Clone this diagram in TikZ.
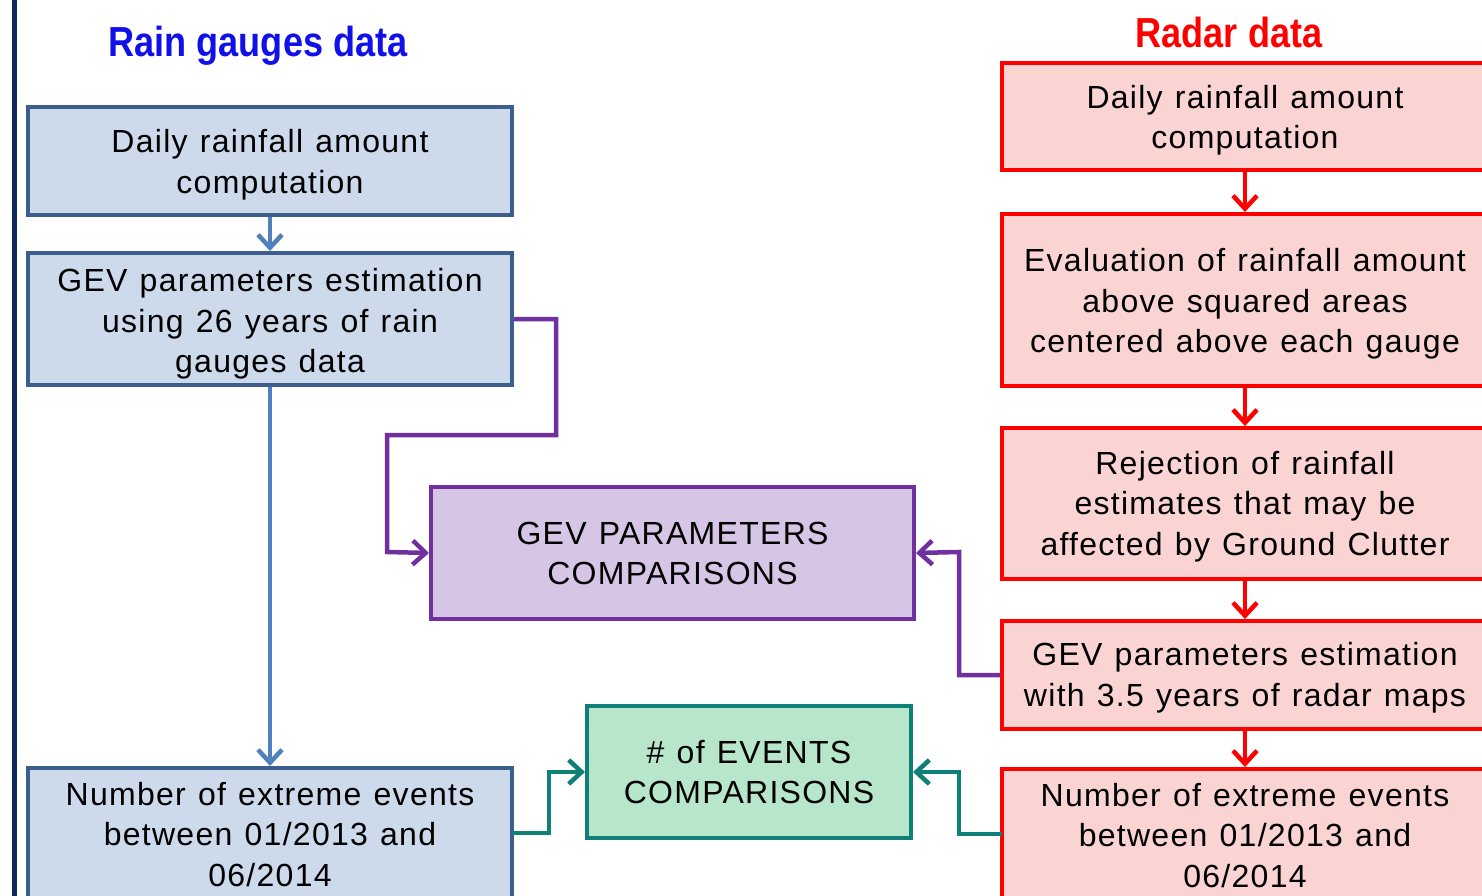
\documentclass[tikz,border=0pt]{standalone}
\usepackage{fontspec}
\setmainfont{Liberation Sans}[LetterSpace=4,WordSpace=1.2]
\newfontfamily\titlefont[FakeStretch=0.86]{Liberation Sans}
\usetikzlibrary{arrows.meta}
\definecolor{bfill}{HTML}{CDDAEB}
\definecolor{bdraw}{HTML}{3B5E8C}
\definecolor{barrow}{HTML}{4F81BD}
\definecolor{pfill}{HTML}{D6C5E4}
\definecolor{pdraw}{HTML}{7030A0}
\definecolor{gfill}{HTML}{B8E6CA}
\definecolor{gdraw}{HTML}{0E8078}
\definecolor{rfill}{HTML}{FAD3D3}
\definecolor{rdraw}{HTML}{FF0000}
\definecolor{navy}{HTML}{0C2A5E}
\definecolor{tblue}{HTML}{1010E8}
\newcommand\mylines[2]{\raisebox{-#1}[\height][\depth]{\begin{tabular}{@{}c@{}}#2\end{tabular}}}
\tikzset{
  box/.style={rectangle, line width=4pt, inner sep=0pt,
    font=\fontsize{32}{40.5}\selectfont},
  bluebox/.style={box, draw=bdraw, fill=bfill, minimum width=484pt},
  redbox/.style={box, draw=rdraw, fill=rfill, minimum width=486pt},
  purplebox/.style={box, draw=pdraw, fill=pfill},
  greenbox/.style={box, draw=gdraw, fill=gfill},
  conn/.style={line width=4.5pt, -{Straight Barb[length=13pt,width=24pt]}},
  ttl/.style={font=\titlefont\bfseries\fontsize{42}{46}\selectfont, inner sep=0pt}
}
\begin{document}
\begin{tikzpicture}[x=1pt,y=-1pt]
\useasboundingbox (0,0) rectangle (1482,896);
\clip (0,0) rectangle (1482,896);
\fill[white] (0,0) rectangle (1482,896);
\fill[navy] (12,0) rectangle (17,896);

\node[ttl, text=tblue] (tl) at (258,46) {Rain gauges data};
\node[ttl, text=rdraw] (tr) at (1229,32) {Radar data};

% left column
\node[bluebox, minimum height=108pt] (b1) at (270,161) {\mylines{4pt}{Daily rainfall amount\\computation}};
\node[bluebox, minimum height=132pt] (b2) at (270,319) {\mylines{5pt}{GEV parameters estimation\\using 26 years of rain\\gauges data}};
\node[bluebox, minimum height=132pt] (b3) at (270,834) {\mylines{3.5pt}{Number of extreme events\\between 01/2013 and\\06/2014}};

% middle
\node[purplebox, minimum width=483pt, minimum height=132pt] (p) at (672.5,553) {\mylines{3.5pt}{GEV PARAMETERS\\COMPARISONS}};
\node[greenbox, minimum width=324pt, minimum height=132pt] (g) at (749,772) {\mylines{3.5pt}{\# of EVENTS\\COMPARISONS}};

% right column
\node[redbox, minimum height=107pt] (r1) at (1245,116.5) {\mylines{4pt}{Daily rainfall amount\\computation}};
\node[redbox, minimum height=172pt] (r2) at (1245,300) {\mylines{4pt}{Evaluation of rainfall amount\\above squared areas\\centered above each gauge}};
\node[redbox, minimum height=151pt] (r3) at (1245,503.5) {\mylines{3pt}{Rejection of rainfall\\estimates that may be\\affected by Ground Clutter}};
\node[redbox, minimum height=108pt] (r4) at (1245,675) {\mylines{3pt}{GEV parameters estimation\\with 3.5 years of radar maps}};
\node[redbox, minimum height=132pt] (r5) at (1245,835) {\mylines{3.5pt}{Number of extreme events\\between 01/2013 and\\06/2014}};

% connectors left
\draw[conn, barrow] (b1.south) -- (b2.north);
\draw[conn, barrow] (b2.south) -- (b3.north);

% connectors right
\draw[conn, rdraw] (r1.south) -- (r2.north);
\draw[conn, rdraw] (r2.south) -- (r3.north);
\draw[conn, rdraw] (r3.south) -- (r4.north);
\draw[conn, rdraw] (r4.south) -- (r5.north);

% to purple
\draw[conn, pdraw] (b2.east) -- (556,319) -- (556,435) -- (387,435) -- (387,552) -- (p.west);
\draw[conn, pdraw] (r4.west) -- (959,675) -- (959,552) -- (p.east);

% to green
\draw[conn, gdraw] (512,833) -- (549,833) -- (549,772) -- (g.west);
\draw[conn, gdraw] (1002,834) -- (959,834) -- (959,772) -- (g.east);
\end{tikzpicture}
\end{document}
